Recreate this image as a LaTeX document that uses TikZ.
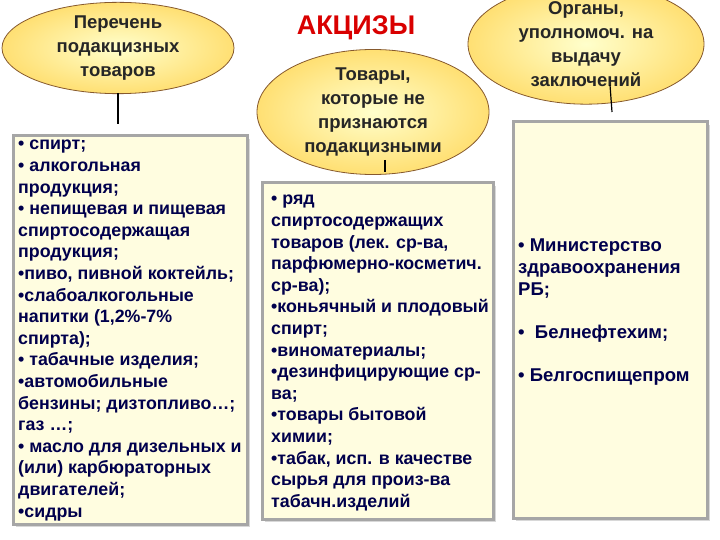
\documentclass[tikz,border=0pt]{standalone}
\usepackage{fontspec}
\setmainfont{Liberation Sans}
\usetikzlibrary{shadows,shapes.geometric}
\begin{document}
\begin{tikzpicture}[x=1pt,y=-1pt,
 oval/.style={ellipse,draw=brown!70!black,line width=0.8pt,inner color=yellow!20!white,outer color=orange!45!yellow!55!white,font=\bfseries\fontsize{18.5}{24}\selectfont,align=center,text=black!85,inner sep=0pt},
 panel/.style={draw=gray!70,line width=3pt,fill=yellow!12!white,drop shadow={opacity=0.3}},
 txt/.style={anchor=north west,align=left,font=\bfseries\fontsize{17.8}{21.6}\selectfont,text=blue!30!black,inner sep=0pt},
 link/.style={draw=black,line width=1.2pt}]
\useasboundingbox (0,0) rectangle (720,540);
\fill[white] (0,0) rectangle (720,540);
\node[panel,minimum width=234pt,minimum height=388pt] (bl) at (130,330) {};
\node[panel,minimum width=231pt,minimum height=336pt] (bm) at (378,351) {};
\node[panel,minimum width=194pt,minimum height=396pt] (br) at (610,320) {};
\node[oval,minimum width=232pt,minimum height=90pt] (el) at (118,48) {Перечень\\подакцизных\\товаров};
\node[oval,minimum width=232pt,minimum height=104pt] (em) at (373,112) {Товары,\\которые не\\признаются\\подакцизными};
\node[oval,minimum width=236pt,minimum height=96pt] (er) at (586,44) {Органы,\\уполномоч. на\\выдачу\\заключений};
\node[font=\bfseries\fontsize{27}{30}\selectfont,text=red!85!black] (t) at (356,28) {АКЦИЗЫ};
\coordinate (lt) at (118,124); \coordinate (mt) at (385,172); \coordinate (rt) at (612,112);
\draw[link] (118,93) -- (lt);
\draw[link] (385,160) -- (mt);
\draw[link] (610,85) -- (rt);
\node[txt] (tl) at (18,140) {• спирт;\\• алкогольная\\продукция;\\• непищевая и пищевая\\спиртосодержащая\\продукция;\\•пиво, пивной коктейль;\\•слабоалкогольные\\напитки (1,2\%-7\%\\спирта);\\• табачные изделия;\\•автомобильные\\бензины; дизтопливо…;\\газ …;\\• масло для дизельных и\\(или) карбюраторных\\двигателей;\\•сидры};
\node[txt] (tm) at (271,195) {• ряд\\спиртосодержащих\\товаров (лек. ср-ва,\\парфюмерно-косметич.\\ср-ва);\\•коньячный и плодовый\\спирт;\\•виноматериалы;\\•дезинфицирующие ср-\\ва;\\•товары бытовой\\химии;\\•табак, исп. в качестве\\сырья для произ-ва\\табачн.изделий};
\node[txt,font=\bfseries\fontsize{18.5}{22}\selectfont] (tr) at (518,239) {• Министерство\\здравоохранения\\РБ;\\[21pt]• \ Белнефтехим;\\[21pt]• Белгоспищепром};
\end{tikzpicture}
\end{document}
